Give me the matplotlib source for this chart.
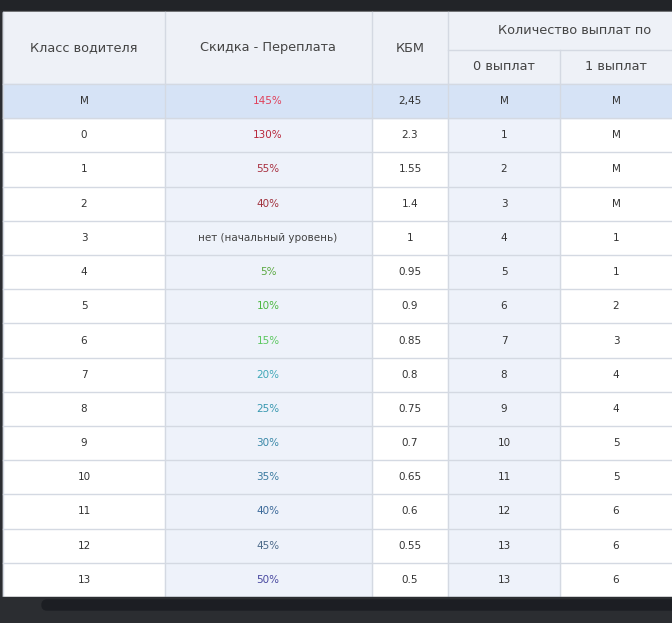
import matplotlib
matplotlib.use("Agg")
import matplotlib.pyplot as plt
from matplotlib.patches import Rectangle, FancyBboxPatch

classes = ["M", "0", "1", "2", "3", "4", "5", "6", "7", "8", "9", "10", "11", "12", "13"]
discount = ["145%", "130%", "55%", "40%", "нет (начальный уровень)", "5%", "10%", "15%", "20%",
            "25%", "30%", "35%", "40%", "45%", "50%"]
disc_colors = ["#e0405a", "#b8283c", "#a83040", "#a0303c", "#444444", "#5aa840", "#4cb840", "#5cc860",
               "#40a8b8", "#3898b0", "#3a88a8", "#3a7aa0", "#3a6898", "#4a6888", "#4848a0"]
kbm = ["2,45", "2.3", "1.55", "1.4", "1", "0.95", "0.9", "0.85", "0.8", "0.75", "0.7", "0.65", "0.6", "0.55", "0.5"]
pay0 = ["M", "1", "2", "3", "4", "5", "6", "7", "8", "9", "10", "11", "12", "13", "13"]
pay1 = ["M", "M", "M", "M", "1", "1", "2", "3", "4", "4", "5", "5", "6", "6", "6"]

W, H = 672, 623
fig = plt.figure(figsize=(W / 100, H / 100), dpi=100)
ax = fig.add_axes([0, 0, 1, 1])
ax.set_xlim(0, W); ax.set_ylim(H, 0); ax.axis("off")
fig.patch.set_facecolor("#2b2d31")

cols = [3, 165, 372, 448, 560, 680]
top, sub, hdr_bot, bot = 12, 50, 84, 597
rh = (bot - hdr_bot) / len(classes)
shade = "#eef2fa"
line = "#d4d9e2"

ax.add_patch(Rectangle((0, 0), W, 9, color="#222428"))
ax.add_patch(Rectangle((3, top), W, bot - top, color="white", zorder=0))
ax.add_patch(Rectangle((3, top), W, hdr_bot - top, color="#eef1f7", zorder=0))
for c in (1, 3):
    ax.add_patch(Rectangle((cols[c], hdr_bot), cols[c + 1] - cols[c], bot - hdr_bot, color=shade, zorder=0))
ax.add_patch(Rectangle((3, hdr_bot), W, rh, color="#d6e3f6", zorder=0.5))

for i in range(len(classes) + 1):
    y = hdr_bot + i * rh
    ax.plot([3, W], [y, y], color=line, lw=1, zorder=1)
ax.plot([cols[3], W], [sub, sub], color=line, lw=1, zorder=1)
for i, x in enumerate(cols[:5]):
    y0 = sub if i == 4 else top
    ax.plot([x, x], [y0, bot], color=line, lw=1, zorder=1)

fp = dict(family="DejaVu Sans", ha="center", va="center")
hc = "#444444"
hs = 9.3
ax.text(84, 48, "Класс водителя", fontsize=hs, color=hc, **fp)
ax.text(268, 48, "Скидка - Переплата", fontsize=hs, color=hc, **fp)
ax.text(410, 48, "КБМ", fontsize=hs, color=hc, **fp)
ax.text(498, 30, "Количество выплат по", fontsize=hs, color=hc, family="DejaVu Sans", ha="left", va="center")
ax.text(504, 67, "0 выплат", fontsize=hs, color=hc, **fp)
ax.text(616, 67, "1 выплат", fontsize=hs, color=hc, **fp)

tc = "#333333"
for i in range(len(classes)):
    y = hdr_bot + (i + 0.5) * rh
    ax.text(84, y, classes[i], fontsize=7.5, color=tc, **fp)
    ax.text(268, y, discount[i], fontsize=7.5, color=disc_colors[i], **fp)
    ax.text(410, y, kbm[i], fontsize=7.5, color=tc, **fp)
    ax.text(504, y, pay0[i], fontsize=7.5, color=tc, **fp)
    ax.text(616, y, pay1[i], fontsize=7.5, color=tc, **fp)

ax.add_patch(Rectangle((0, bot), W, H - bot, color="#2b2d31", zorder=2))
ax.add_patch(FancyBboxPatch((42, 600), 640, 10, boxstyle="round,pad=0,rounding_size=5",
                            color="#1c1e23", zorder=3))
fig.savefig("out.png", dpi=100, facecolor=fig.get_facecolor())
